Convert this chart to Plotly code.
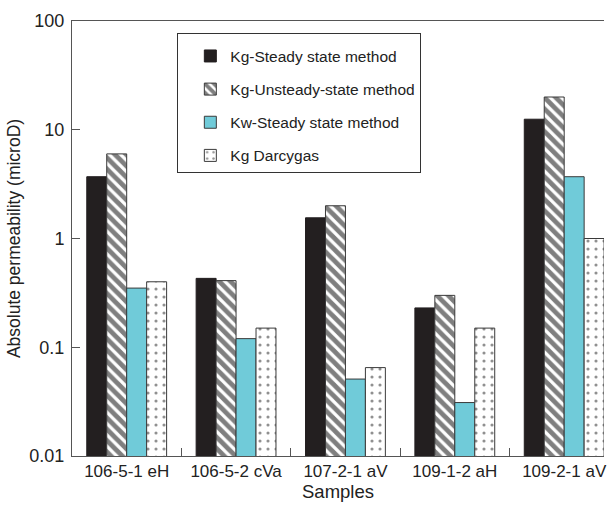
import plotly.graph_objects as go

samples = ["106-5-1 eH", "106-5-2 cVa", "107-2-1 aV", "109-1-2 aH", "109-2-1 aV"]
kg_steady = [3.7, 0.43, 1.55, 0.23, 12.5]
kg_unsteady = [6.0, 0.41, 2.0, 0.30, 20.0]
kw_steady = [0.35, 0.12, 0.051, 0.031, 3.7]
kg_darcygas = [0.40, 0.15, 0.065, 0.15, 1.0]

series_names = ["Kg-Steady state method", "Kg-Unsteady-state method",
                "Kw-Steady state method", "Kg Darcygas"]

y_tickvals = [0.01, 0.1, 1, 10, 100]
y_ticktext = ["0.01", "0.1", "1", "10", "100"]

FONT = "Liberation Sans, Arial, Helvetica, sans-serif"
INK = "#231f20"
CYAN = "#70cbd9"
EDGE = "#3a3a3a"

fig = go.Figure()
fig.add_trace(go.Bar(
    x=samples, y=kg_steady, name=series_names[0], legendgroup="a",
    marker=dict(color=INK, line=dict(color=INK, width=1))))
fig.add_trace(go.Bar(
    x=samples, y=kg_unsteady, name=series_names[1], legendgroup="b",
    marker=dict(color="white", line=dict(color=EDGE, width=1),
                pattern=dict(shape="\\", fgcolor="#000000", bgcolor="white",
                             size=8, solidity=0.6))))
fig.add_trace(go.Bar(
    x=samples, y=kw_steady, name=series_names[2], legendgroup="c",
    marker=dict(color=CYAN, line=dict(color=EDGE, width=1))))
fig.add_trace(go.Bar(
    x=samples, y=kg_darcygas, name=series_names[3], legendgroup="d",
    marker=dict(color="white", line=dict(color=EDGE, width=1),
                pattern=dict(shape=".", fgcolor="#222222", bgcolor="white",
                             size=8, solidity=0.12))))

fig.update_layout(
    width=607, height=505,
    margin=dict(l=72, r=0, t=21, b=49),
    paper_bgcolor="white", plot_bgcolor="white",
    font=dict(family=FONT, size=17, color="#222222"),
    barmode="group", bargap=0.27, bargroupgap=0,
    showlegend=True,
    legend=dict(
        x=0.198, y=0.972, xanchor="left", yanchor="top",
        bordercolor="#333333", borderwidth=1, bgcolor="white",
        font=dict(family=FONT, size=15.5, color="#222222"),
        tracegroupgap=10, indentation=12,
        title=dict(text=" ", font=dict(size=4)),
        entrywidth=218, entrywidthmode="pixels",
    ),
)

fig.update_xaxes(
    range=[-0.5, 4.364],
    showline=True, linecolor="#555555", linewidth=1, mirror=True,
    ticks="inside", tickson="boundaries", ticklen=8, tickcolor="#555555",
    showgrid=False, zeroline=False,
    tickfont=dict(size=17),
    title=dict(text="Samples", font=dict(size=18.5), standoff=2),
)
fig.update_yaxes(
    type="log", range=[-2, 2],
    tickvals=y_tickvals, ticktext=y_ticktext,
    showline=True, linecolor="#555555", linewidth=1, mirror=False,
    ticks="inside", ticklen=8, tickcolor="#555555",
    showgrid=False, zeroline=False,
    tickfont=dict(size=18), ticklabelstandoff=3,
    title=dict(text="Absolute permeability (microD)", font=dict(size=17.5), standoff=4),
)

fig.write_html("out.html")
